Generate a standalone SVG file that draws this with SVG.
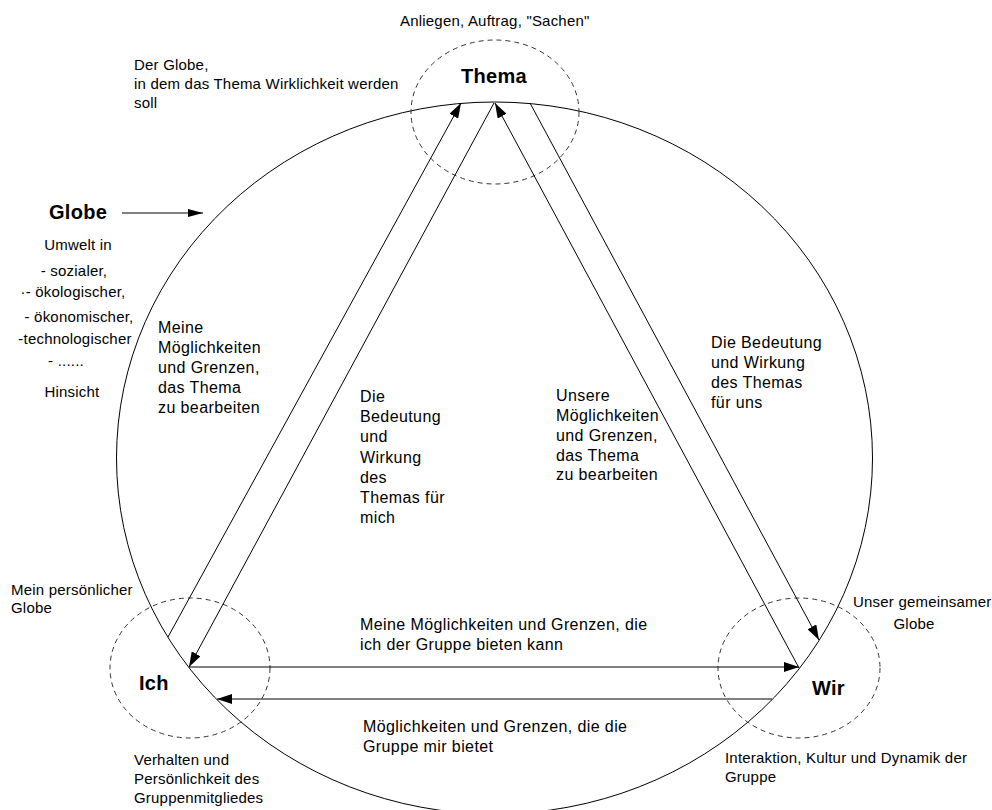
<svg xmlns="http://www.w3.org/2000/svg" width="992" height="810" viewBox="0 0 992 810">
<style>
text{font-family:"Liberation Sans",Arial,sans-serif;fill:#000}
.s{font-size:15px;letter-spacing:0.2px}
.m{font-size:16px;letter-spacing:0.4px}
.b{font-size:20px;font-weight:bold;letter-spacing:0.3px}
.ln{stroke:#000;stroke-width:1;fill:none}
.d{stroke:#333;stroke-width:1;fill:none;stroke-dasharray:5 4}
</style>
<defs>
<marker id="ah" markerUnits="userSpaceOnUse" markerWidth="15" markerHeight="10" refX="15" refY="5" orient="auto"><path d="M0,0 L15,5 L0,10 z" fill="#000"/></marker>
<marker id="ahs" markerUnits="userSpaceOnUse" markerWidth="15" markerHeight="8" refX="15" refY="4" orient="auto"><path d="M0,0 L15,4 L0,8 z" fill="#000"/></marker>
</defs>
<rect width="992" height="810" fill="#fff"/>
<g id="globe">
<ellipse class="ln" cx="494.5" cy="458" rx="378" ry="356"/>
<text class="b" x="49" y="219">Globe</text>
<line class="ln" x1="122" y1="213" x2="203" y2="213" marker-end="url(#ahs)"/>
<text class="s" x="134" y="70">Der Globe,</text>
<text class="s" x="134" y="89">in dem das Thema Wirklichkeit werden</text>
<text class="s" x="134" y="108">soll</text>
<g text-anchor="middle" class="s">
<text x="78" y="250">Umwelt in</text>
<text x="74" y="276">- sozialer,</text>
<text x="73" y="297">·- ökologischer,</text>
<text x="79" y="322">- ökonomischer,</text>
<text x="75" y="344">-technologischer</text>
<text x="66" y="366">- ......</text>
<text x="72" y="397">Hinsicht</text>
</g>
</g>
<g id="thema">
<ellipse class="d" cx="495" cy="112" rx="84" ry="72"/>
<text class="b" x="494" y="83" text-anchor="middle">Thema</text>
<text class="s" x="400" y="26">Anliegen, Auftrag, "Sachen"</text>
</g>
<g id="ich">
<ellipse class="d" cx="190" cy="668" rx="80" ry="70"/>
<text class="b" x="139" y="690">Ich</text>
<text class="s" x="11" y="595">Mein persönlicher</text>
<text class="s" x="11" y="613">Globe</text>
<text class="s" x="134" y="765">Verhalten und</text>
<text class="s" x="134" y="784">Persönlichkeit des</text>
<text class="s" x="134" y="803">Gruppenmitgliedes</text>
</g>
<g id="wir">
<ellipse class="d" cx="799" cy="668" rx="81" ry="70"/>
<text class="b" x="812" y="695">Wir</text>
<text class="s" x="853" y="607">Unser gemeinsamer</text>
<text class="s" x="914" y="629" text-anchor="middle">Globe</text>
<text class="s" x="725" y="763">Interaktion, Kultur und Dynamik der</text>
<text class="s" x="725" y="782">Gruppe</text>
</g>
<g id="connectors">
<line class="ln" x1="168" y1="637" x2="461" y2="103" marker-end="url(#ah)"/>
<line class="ln" x1="494" y1="103" x2="189" y2="667" marker-end="url(#ah)"/>
<line class="ln" x1="799" y1="668" x2="495" y2="103" marker-end="url(#ah)"/>
<line class="ln" x1="530" y1="103" x2="819" y2="640" marker-end="url(#ah)"/>
<line class="ln" x1="189" y1="667" x2="799" y2="667" marker-end="url(#ah)"/>
<line class="ln" x1="772" y1="699" x2="217" y2="699" marker-end="url(#ah)"/>
</g>
<g id="labels" class="m">
<text x="158" y="333">Meine</text>
<text x="158" y="353">Möglichkeiten</text>
<text x="158" y="373">und Grenzen,</text>
<text x="158" y="393">das Thema</text>
<text x="158" y="413">zu bearbeiten</text>
<text x="360" y="402">Die</text>
<text x="360" y="422">Bedeutung</text>
<text x="360" y="442">und</text>
<text x="360" y="463">Wirkung</text>
<text x="360" y="483">des</text>
<text x="360" y="503">Themas für</text>
<text x="360" y="523">mich</text>
<text x="556" y="401">Unsere</text>
<text x="556" y="421">Möglichkeiten</text>
<text x="556" y="441">und Grenzen,</text>
<text x="556" y="461">das Thema</text>
<text x="556" y="480">zu bearbeiten</text>
<text x="711" y="348">Die Bedeutung</text>
<text x="711" y="368">und Wirkung</text>
<text x="711" y="388">des Themas</text>
<text x="711" y="408">für uns</text>
<text x="360" y="630">Meine Möglichkeiten und Grenzen, die</text>
<text x="360" y="650">ich der Gruppe bieten kann</text>
<text x="363" y="732">Möglichkeiten und Grenzen, die die</text>
<text x="363" y="752">Gruppe mir bietet</text>
</g>
</svg>
